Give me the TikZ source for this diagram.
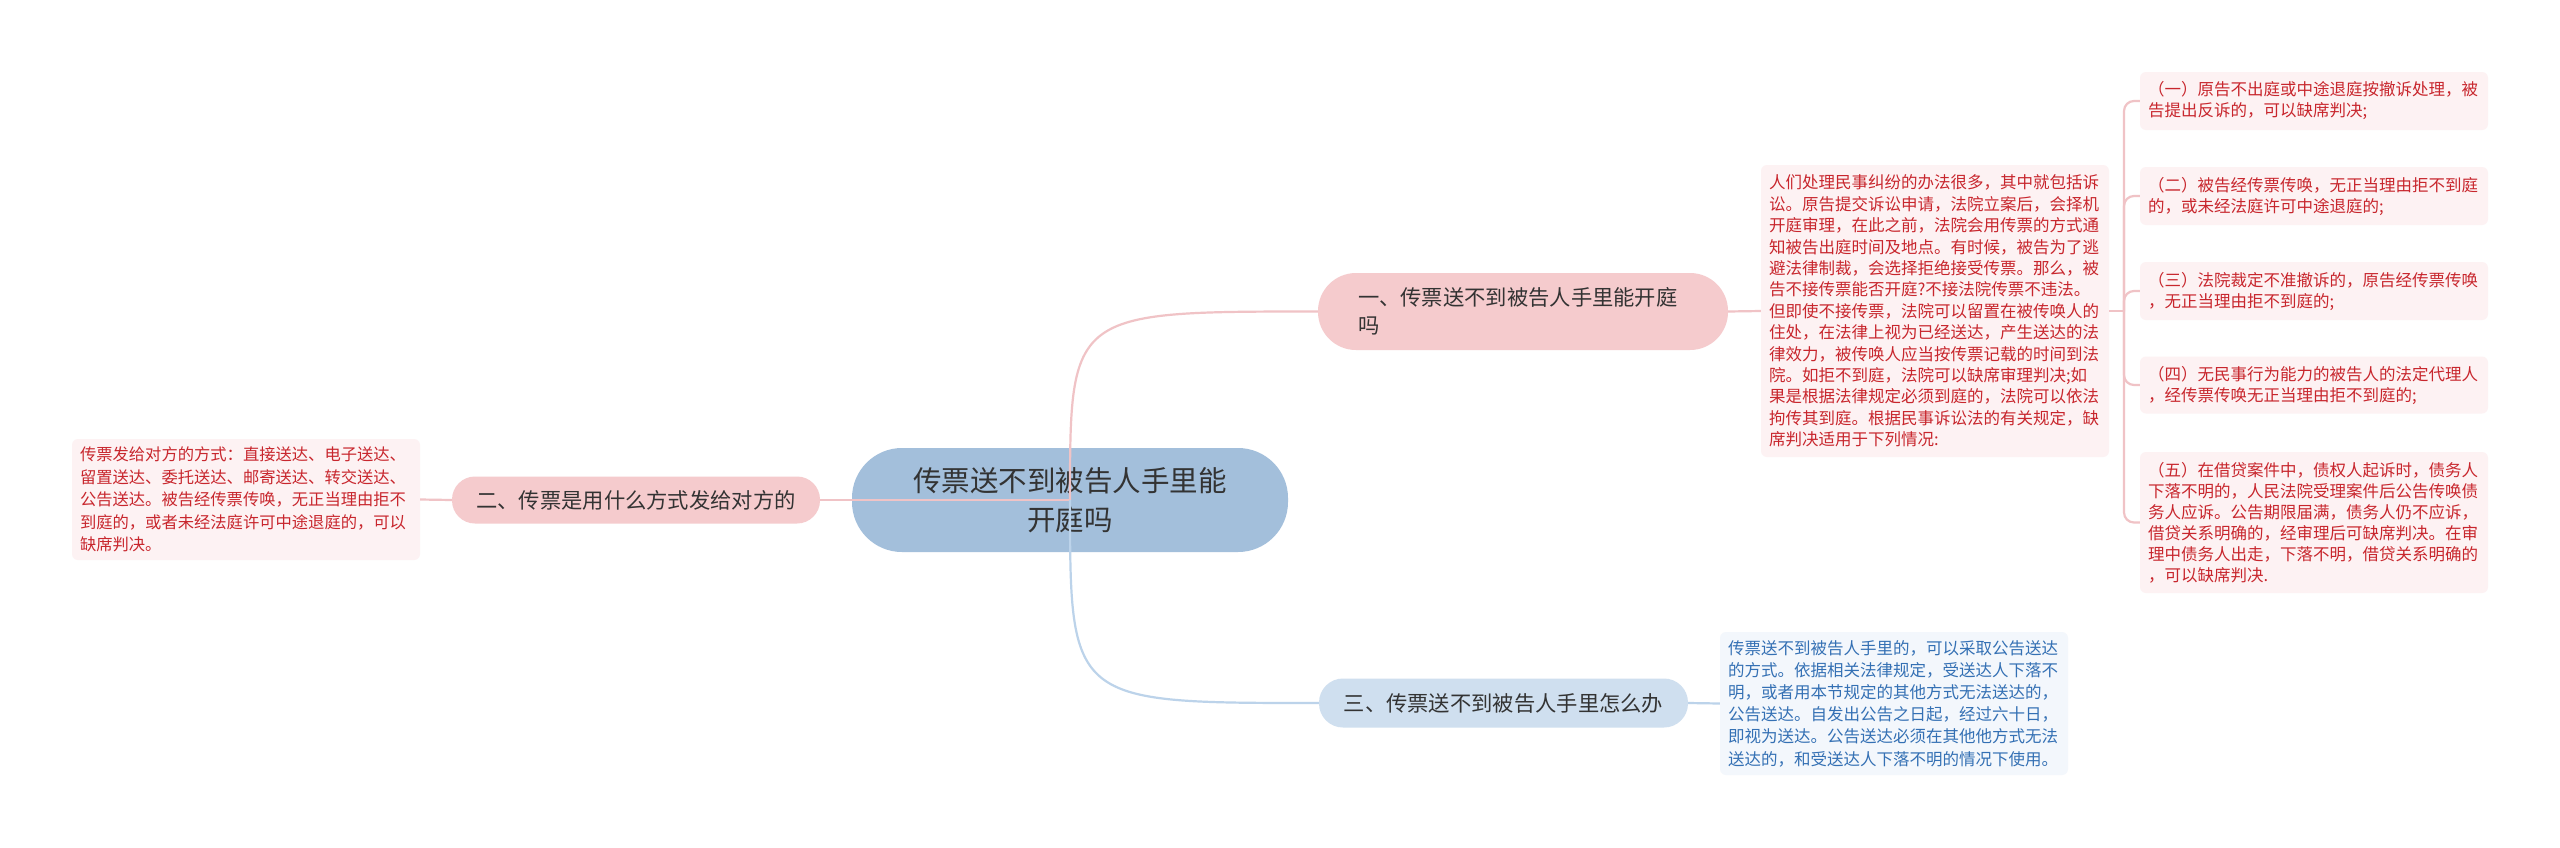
\documentclass[tikz,border=0pt]{standalone}
\usepackage{fontspec}
\setmainfont{Noto Sans CJK SC}
\definecolor{rootfill}{HTML}{A3BFDB}
\definecolor{pinkfill}{HTML}{F5CBCD}
\definecolor{bluefill}{HTML}{CFDFEF}
\definecolor{pinkleaf}{HTML}{FDF2F3}
\definecolor{blueleaf}{HTML}{F3F7FC}
\definecolor{redtext}{HTML}{C8262D}
\definecolor{bluetext}{HTML}{3470B4}
\definecolor{darktext}{HTML}{333333}
\definecolor{pinkline}{HTML}{F0C3C6}
\definecolor{blueline}{HTML}{BCD3EA}
\tikzset{
  rootbox/.style={fill=rootfill, draw=none, rounded corners=50pt, minimum width=436pt, minimum height=104pt, align=center, text=darktext, font=\fontsize{28.5}{39}\selectfont, inner sep=0pt},
  branchbox/.style={draw=none, minimum height=48pt, align=center, text=darktext, font=\fontsize{21.3}{28}\selectfont, inner sep=0pt},
  redleaf/.style={fill=pinkleaf, draw=none, rounded corners=6pt, text=redtext, align=left, font=\fontsize{16.5}{21}\selectfont, inner xsep=8pt, inner ysep=0pt, text width=332pt},
  bluebox/.style={fill=blueleaf, draw=none, rounded corners=6pt, text=bluetext, align=left, font=\fontsize{16.5}{22.2}\selectfont, inner xsep=8pt, inner ysep=0pt, text width=332pt},
  pinkedge/.style={draw=pinkline, line width=2.2pt},
  blueedge/.style={draw=blueline, line width=2.2pt},
}
\begin{document}
\begin{tikzpicture}[x=1pt,y=-1pt]
\useasboundingbox[fill=white] (0,0) rectangle (2560,847);

% root
\node[rootbox] (root) at (1070,500) {传票送不到被告人手里能\\开庭吗};

% branches
\node[branchbox, fill=pinkfill, rounded corners=38pt, minimum height=77pt, text width=330pt, inner xsep=40pt, align=left] (b1) at (1523,311.5) {一、传票送不到被告人手里能开庭\\吗};
\node[branchbox, fill=pinkfill, rounded corners=23pt, minimum width=368pt, minimum height=47pt] (b2) at (636,500) {二、传票是用什么方式发给对方的};
\node[branchbox, fill=bluefill, rounded corners=24pt, minimum width=369pt, minimum height=49pt] (b3) at (1503.5,703) {三、传票送不到被告人手里怎么办};

% leaves
\node[redleaf, minimum height=292pt, font=\fontsize{16.5}{21.4}\selectfont] (big) at (1935,311) {人们处理民事纠纷的办法很多，其中就包括诉\\讼。原告提交诉讼申请，法院立案后，会择机\\开庭审理，在此之前，法院会用传票的方式通\\知被告出庭时间及地点。有时候，被告为了逃\\避法律制裁，会选择拒绝接受传票。那么，被\\告不接传票能否开庭?不接法院传票不违法。\\但即使不接传票，法院可以留置在被传唤人的\\住处，在法律上视为已经送达，产生送达的法\\律效力，被传唤人应当按传票记载的时间到法\\院。如拒不到庭，法院可以缺席审理判决;如\\果是根据法律规定必须到庭的，法院可以依法\\拘传其到庭。根据民事诉讼法的有关规定，缺\\席判决适用于下列情况:};

\node[redleaf, minimum height=58pt] (c1) at (2314,101) {（一）原告不出庭或中途退庭按撤诉处理，被\\告提出反诉的，可以缺席判决;};
\node[redleaf, minimum height=58pt] (c2) at (2314,196) {（二）被告经传票传唤，无正当理由拒不到庭\\的，或未经法庭许可中途退庭的;};
\node[redleaf, minimum height=58pt] (c3) at (2314,291) {（三）法院裁定不准撤诉的，原告经传票传唤\\，无正当理由拒不到庭的;};
\node[redleaf, minimum height=57pt] (c4) at (2314,385) {（四）无民事行为能力的被告人的法定代理人\\，经传票传唤无正当理由拒不到庭的;};
\node[redleaf, minimum height=141pt] (c5) at (2314,522.5) {（五）在借贷案件中，债权人起诉时，债务人\\下落不明的，人民法院受理案件后公告传唤债\\务人应诉。公告期限届满，债务人仍不应诉，\\借贷关系明确的，经审理后可缺席判决。在审\\理中债务人出走，下落不明，借贷关系明确的\\，可以缺席判决.};

\node[redleaf, minimum height=121pt, font=\fontsize{16.3}{22.5}\selectfont] (left) at (246,499.5) {传票发给对方的方式：直接送达、电子送达、\\留置送达、委托送达、邮寄送达、转交送达、\\公告送达。被告经传票传唤，无正当理由拒不\\到庭的，或者未经法庭许可中途退庭的，可以\\缺席判决。};

\node[bluebox, minimum height=143pt] (bl) at (1894,703.5) {传票送不到被告人手里的，可以采取公告送达\\的方式。依据相关法律规定，受送达人下落不\\明，或者用本节规定的其他方式无法送达的，\\公告送达。自发出公告之日起，经过六十日，\\即视为送达。公告送达必须在其他他方式无法\\送达的，和受送达人下落不明的情况下使用。};

% connectors from root (drawn over root as in reference)
\draw[pinkedge] (root.center) .. controls (root.center |- b1.west) .. (b1.west);
\draw[pinkedge] (root.center) -- (b2.east);
\draw[blueedge] (root.center) .. controls (root.center |- b3.west) .. (b3.west);

% branch to leaves
\draw[pinkedge] (b1.east) -- (big.west);
\draw[pinkedge] (b2.west) -- (left.east);
\draw[blueedge] (b3.east) -- (bl.west);

\coordinate (t1) at (2124,311);
\draw[pinkedge] (big.east) -- (t1);
\foreach \c in {c1,c2,c3,c4,c5}{
  \draw[pinkedge, rounded corners=10pt] (t1) |- (\c.west);
}
\end{tikzpicture}
\end{document}
